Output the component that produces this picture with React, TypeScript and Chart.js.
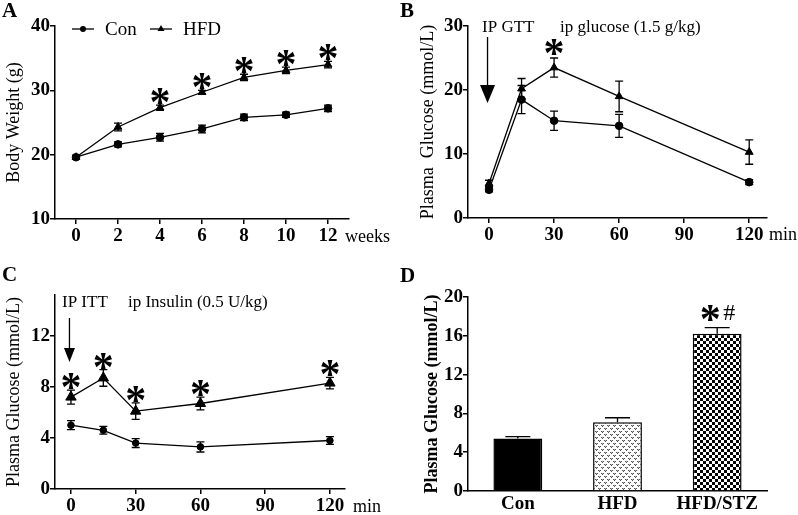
import React, { useEffect, useRef } from "react";
import { Chart, registerables } from "chart.js";

Chart.register(...registerables);

const FONT = "'Liberation Serif', 'Times New Roman', serif";

// ---------- Panel A: body weight ----------
const weeks = [0, 2, 4, 6, 8, 10, 12];
const weekTicks = [0, 2, 4, 6, 8, 10, 12];
const bwCon = [19.6, 21.6, 22.7, 24.0, 25.8, 26.2, 27.2];
const bwConErr = [0.3, 0.4, 0.6, 0.6, 0.5, 0.4, 0.5];
const bwHfd = [19.6, 24.3, 27.3, 29.7, 32.0, 33.1, 34.0];
const bwHfdErr = [0.3, 0.6, 0.4, 0.3, 0.5, 0.5, 0.5];
const bwSig = [false, false, true, true, true, true, true];
const bwYTicks = [10, 20, 30, 40];

// ---------- Panel B: IP GTT ----------
const gttTime = [0, 15, 30, 60, 120];
const gttCon = [4.4, 18.5, 15.2, 14.4, 5.6];
const gttConErr = [0.3, 2.2, 1.5, 1.8, 0.4];
const gttHfd = [5.4, 20.2, 23.5, 19.0, 10.3];
const gttHfdErr = [0.5, 1.6, 1.5, 2.4, 1.9];
const gttSig = [false, false, true, false, false];
const minTicks = [0, 30, 60, 90, 120];
const gttYTicks = [0, 10, 20, 30];

// ---------- Panel C: IP ITT ----------
const ittTime = [0, 15, 30, 60, 120];
const ittCon = [5.0, 4.6, 3.6, 3.3, 3.8];
const ittConErr = [0.35, 0.3, 0.35, 0.4, 0.3];
const ittHfd = [7.2, 8.7, 6.1, 6.7, 8.3];
const ittHfdErr = [0.55, 0.65, 0.65, 0.5, 0.45];
const ittSig = [true, true, true, true, true];
const ittYTicks = [0, 4, 8, 12];

// ---------- Panel D: fasting glucose ----------
const groups = ["Con", "HFD", "HFD/STZ"];
const fastGlucose = [5.4, 7.1, 16.2];
const fastGlucoseErr = [0.2, 0.45, 0.65];
const dYTicks = [0, 4, 8, 12, 16, 20];

// ---------- helpers ----------
const tickFont = { family: FONT, size: 19, weight: "bold" as const };
const STAR = 42;

function linAxis(ticks: number[], min: number, max: number, size: number, horizontal: boolean, title?: string, titlePad?: number, titleBold?: boolean): any {
  return {
    type: "linear",
    min,
    max,
    afterBuildTicks: (s: any) => {
      s.ticks = ticks.map((v) => ({ value: v }));
    },
    afterFit: (s: any) => {
      if (horizontal) s.height = size;
      else s.width = size;
    },
    border: { display: true, color: "#000", width: 1.5 },
    grid: { display: true, drawOnChartArea: false, drawTicks: true, tickLength: 5, color: "#000", lineWidth: 1.5 },
    ticks: { color: "#000", font: tickFont, padding: horizontal ? 1 : 0, maxRotation: 0, autoSkip: false },
    title: title
      ? {
          display: true,
          text: title,
          color: "#000",
          font: { family: FONT, size: 18, weight: titleBold ? "bold" : "normal" },
          padding: { top: titlePad ?? 3, bottom: 0 },
        }
      : { display: false },
  };
}

function lineDs(label: string, xs: number[], ys: number[], style: string, r: number): any {
  return {
    label,
    data: xs.map((x, i) => ({ x, y: ys[i] })),
    borderColor: "#000",
    borderWidth: 1.3,
    pointStyle: style,
    pointRadius: r,
    pointBackgroundColor: "#000",
    pointBorderColor: "#000",
    pointBorderWidth: 1,
    tension: 0,
    fill: false,
    clip: false,
  };
}

function errorBars(errs: number[][], cap: number): any {
  return {
    id: "errorBars",
    beforeDatasetsDraw(chart: any) {
      const ctx = chart.ctx;
      const xs = chart.scales.x;
      const ys = chart.scales.y;
      ctx.save();
      ctx.strokeStyle = "#000";
      ctx.lineWidth = 1.3;
      chart.data.datasets.forEach((ds: any, i: number) => {
        const e = errs[i];
        ds.data.forEach((p: any, j: number) => {
          const x = xs.getPixelForValue(p.x);
          const yt = ys.getPixelForValue(p.y + e[j]);
          const yb = ys.getPixelForValue(p.y - e[j]);
          ctx.beginPath();
          ctx.moveTo(x, yt);
          ctx.lineTo(x, yb);
          ctx.moveTo(x - cap / 2, yt);
          ctx.lineTo(x + cap / 2, yt);
          ctx.moveTo(x - cap / 2, yb);
          ctx.lineTo(x + cap / 2, yb);
          ctx.stroke();
        });
      });
      ctx.restore();
    },
  };
}

function drawStar(ctx: any, x: number, cy: number, size: number) {
  ctx.save();
  ctx.fillStyle = "#000";
  ctx.font = `bold ${size}px ${FONT}`;
  ctx.textAlign = "center";
  ctx.textBaseline = "alphabetic";
  ctx.fillText("*", x, cy + size * 0.5);
  ctx.restore();
}

function stars(dsIndex: number, errs: number[], sig: boolean[], gap: number, size: number): any {
  return {
    id: "stars",
    afterDatasetsDraw(chart: any) {
      const ds = chart.data.datasets[dsIndex];
      const xs = chart.scales.x;
      const ys = chart.scales.y;
      ds.data.forEach((p: any, j: number) => {
        if (!sig[j]) return;
        drawStar(chart.ctx, xs.getPixelForValue(p.x), ys.getPixelForValue(p.y + errs[j]) - gap, size);
      });
    },
  };
}

function unitLabel(text: string, dx: number, dy: number): any {
  return {
    id: "unitLabel",
    afterDraw(chart: any) {
      const ctx = chart.ctx;
      const a = chart.chartArea;
      ctx.save();
      ctx.fillStyle = "#000";
      ctx.font = `18px ${FONT}`;
      ctx.textAlign = "left";
      ctx.textBaseline = "alphabetic";
      ctx.fillText(text, a.right + dx, a.bottom + dy);
      ctx.restore();
    },
  };
}

function arrowNote(label1: string, label2: string, dx1: number, dx2: number, dyText: number, yStart: number, yTip: number, headLen: number, headHalf: number): any {
  return {
    id: "arrowNote",
    afterDraw(chart: any) {
      const ctx = chart.ctx;
      const a = chart.chartArea;
      const x0 = chart.scales.x.getPixelForValue(0);
      ctx.save();
      ctx.fillStyle = "#000";
      ctx.strokeStyle = "#000";
      ctx.font = `17px ${FONT}`;
      ctx.textAlign = "left";
      ctx.textBaseline = "alphabetic";
      ctx.fillText(label1, x0 + dx1, a.top + dyText);
      ctx.fillText(label2, x0 + dx2, a.top + dyText);
      const ax = x0 - 1.5;
      ctx.lineWidth = 1.3;
      ctx.beginPath();
      ctx.moveTo(ax, a.top + yStart);
      ctx.lineTo(ax, a.top + yTip - headLen + 1);
      ctx.stroke();
      ctx.beginPath();
      ctx.moveTo(ax - headHalf, a.top + yTip - headLen);
      ctx.lineTo(ax + headHalf, a.top + yTip - headLen);
      ctx.lineTo(ax, a.top + yTip);
      ctx.closePath();
      ctx.fill();
      ctx.restore();
    },
  };
}

const legendA: any = {
  id: "legendA",
  afterDraw(chart: any) {
    const ctx = chart.ctx;
    const a = chart.chartArea;
    const y = a.top + 3;
    ctx.save();
    ctx.strokeStyle = "#000";
    ctx.fillStyle = "#000";
    ctx.lineWidth = 1.3;
    const items = [
      { label: chart.data.datasets[0].label, x: a.left + 17, shape: "circle" },
      { label: chart.data.datasets[1].label, x: a.left + 95, shape: "triangle" },
    ];
    items.forEach((it) => {
      ctx.beginPath();
      ctx.moveTo(it.x, y);
      ctx.lineTo(it.x + 22, y);
      ctx.stroke();
      const cx = it.x + 11;
      ctx.beginPath();
      if (it.shape === "circle") {
        ctx.arc(cx, y, 3, 0, Math.PI * 2);
      } else {
        ctx.moveTo(cx, y - 4);
        ctx.lineTo(cx + 3.5, y + 2);
        ctx.lineTo(cx - 3.5, y + 2);
        ctx.closePath();
      }
      ctx.fill();
      ctx.font = `19px ${FONT}`;
      ctx.textBaseline = "alphabetic";
      ctx.fillText(it.label, it.x + 33, y + 6);
    });
    ctx.restore();
  },
};

const baseOptions = (padding: any) => ({
  responsive: false,
  animation: false,
  events: [],
  layout: { padding },
  plugins: { legend: { display: false }, tooltip: { enabled: false } },
});

function buildA(): any {
  return {
    type: "line",
    data: {
      datasets: [
        lineDs("Con", weeks, bwCon, "circle", 3.8),
        lineDs("HFD", weeks, bwHfd, "triangle", 4.5),
      ],
    },
    options: {
      ...baseOptions({ left: 0, right: 50, top: 26, bottom: 11 }),
      scales: {
        x: linAxis(weekTicks, -1, 13, 30, true),
        y: linAxis(bwYTicks, 10, 40, 55, false, "Body Weight (g)", 3),
      },
    },
    plugins: [errorBars([bwConErr, bwHfdErr], 8), stars(1, bwHfdErr, bwSig, 10, STAR), unitLabel("weeks", -4, 23), legendA],
  };
}

function buildB(): any {
  return {
    type: "line",
    data: {
      datasets: [
        lineDs("Con", gttTime, gttCon, "circle", 3.8),
        lineDs("HFD", gttTime, gttHfd, "triangle", 4.5),
      ],
    },
    options: {
      ...baseOptions({ left: 0, right: 31, top: 26, bottom: 12 }),
      scales: {
        x: linAxis(minTicks, -9.7, 128.2, 30, true),
        y: linAxis(gttYTicks, 0, 30, 68, false, "Plasma  Glucose (mmol/L)", 17),
      },
    },
    plugins: [
      errorBars([gttConErr, gttHfdErr], 8),
      stars(1, gttHfdErr, gttSig, 12, STAR),
      unitLabel("min", 2, 22),
      arrowNote("IP GTT", "ip glucose (1.5 g/kg)", -7, 71, 6, 11, 77, 18, 7.5),
    ],
  };
}

function buildC(): any {
  return {
    type: "line",
    data: {
      datasets: [
        lineDs("Con", ittTime, ittCon, "circle", 3.3),
        lineDs("HFD", ittTime, ittHfd, "triangle", 6),
      ],
    },
    options: {
      ...baseOptions({ left: 0, right: 54, top: 35, bottom: 0 }),
      scales: {
        x: linAxis(minTicks, -7.4, 127, 26, true),
        y: linAxis(ittYTicks, 0, 15.2, 55, false, "Plasma Glucose (mmol/L)", 3),
      },
    },
    plugins: [
      errorBars([ittConErr, ittHfdErr], 8),
      stars(1, ittHfdErr, ittSig, 10, STAR),
      unitLabel("min", 8, 23),
      arrowNote("IP ITT", "ip Insulin (0.5 U/kg)", -9, 57, 12, 23, 67, 14, 5.5),
    ],
  };
}

function makePatterns(ctx: CanvasRenderingContext2D) {
  // fine dotted texture
  const t1 = document.createElement("canvas");
  t1.width = 6;
  t1.height = 6;
  const c1 = t1.getContext("2d")!;
  c1.fillStyle = "#fff";
  c1.fillRect(0, 0, 6, 6);
  c1.fillStyle = "#555";
  [[0, 0], [2, 0], [1, 1], [3, 3], [5, 3], [4, 4]].forEach(([x, y]) => c1.fillRect(x, y, 1, 1));
  c1.fillStyle = "#aaa";
  [[1, 0], [4, 3]].forEach(([x, y]) => c1.fillRect(x, y, 1, 1));
  // checkerboard
  const t2 = document.createElement("canvas");
  t2.width = 6;
  t2.height = 6;
  const c2 = t2.getContext("2d")!;
  c2.fillStyle = "#fff";
  c2.fillRect(0, 0, 6, 6);
  c2.fillStyle = "#000";
  c2.fillRect(0, 0, 3, 3);
  c2.fillRect(3, 3, 3, 3);
  return [ctx.createPattern(t1, "repeat"), ctx.createPattern(t2, "repeat")];
}

function buildD(ctx: CanvasRenderingContext2D): any {
  const [dots, checks] = makePatterns(ctx);
  const barErr: any = {
    id: "barErr",
    afterDatasetsDraw(chart: any) {
      const c = chart.ctx;
      const meta = chart.getDatasetMeta(0);
      const ys = chart.scales.y;
      c.save();
      c.strokeStyle = "#000";
      c.lineWidth = 1.3;
      meta.data.forEach((bar: any, j: number) => {
        const v = fastGlucose[j];
        const yt = ys.getPixelForValue(v + fastGlucoseErr[j]);
        c.beginPath();
        c.moveTo(bar.x, ys.getPixelForValue(v));
        c.lineTo(bar.x, yt);
        c.moveTo(bar.x - 12.5, yt);
        c.lineTo(bar.x + 12.5, yt);
        c.stroke();
      });
      // significance marks over HFD/STZ
      const last = meta.data[2];
      const cy = ys.getPixelForValue(fastGlucose[2] + fastGlucoseErr[2]) - 16;
      drawStar(c, last.x - 7, cy, STAR);
      c.fillStyle = "#000";
      c.font = `24px ${FONT}`;
      c.textAlign = "center";
      c.textBaseline = "alphabetic";
      c.fillText("#", last.x + 12, cy + 8);
      c.restore();
    },
  };
  return {
    type: "bar",
    data: {
      labels: groups,
      datasets: [
        {
          label: "Plasma Glucose",
          data: fastGlucose,
          backgroundColor: ["#000", dots, checks],
          borderColor: "#000",
          borderWidth: 1.5,
          borderSkipped: "bottom",
          barPercentage: 0.49,
          categoryPercentage: 1,
        },
      ],
    },
    options: {
      ...baseOptions({ left: 0, right: 31, top: 37, bottom: 0 }),
      scales: {
        x: {
          type: "category",
          offset: true,
          afterFit: (s: any) => {
            s.height = 24;
          },
          border: { display: true, color: "#000", width: 1.5 },
          grid: { display: false, drawTicks: false },
          ticks: { color: "#000", font: tickFont, padding: 2, maxRotation: 0, autoSkip: false },
        },
        y: linAxis(dYTicks, 0, 20, 68, false, "Plasma Glucose (mmol/L)", 22, true),
      },
    },
    plugins: [barErr],
  };
}

function Panel({ left, top, width, height, build }: any) {
  const ref = useRef<HTMLCanvasElement>(null);
  useEffect(() => {
    const canvas = ref.current!;
    const ctx = canvas.getContext("2d")!;
    const chart = new Chart(canvas, build(ctx));
    return () => chart.destroy();
  }, []);
  return (
    <canvas
      ref={ref}
      width={width}
      height={height}
      style={{ position: "absolute", left, top, width, height, display: "block" }}
    />
  );
}

const letterStyle = (left: number, top: number): React.CSSProperties => ({
  position: "absolute",
  left,
  top,
  fontFamily: FONT,
  fontWeight: "bold",
  fontSize: 21,
  lineHeight: "21px",
  color: "#000",
});

export default function App() {
  return (
    <div
      style={{
        position: "absolute",
        left: 0,
        top: 0,
        width: 798,
        height: 515,
        background: "#fff",
        overflow: "hidden",
      }}
    >
      <Panel left={0} top={0} width={399} height={260} build={() => buildA()} />
      <Panel left={400} top={0} width={398} height={260} build={() => buildB()} />
      <Panel left={0} top={260} width={399} height={255} build={() => buildC()} />
      <Panel left={400} top={260} width={398} height={255} build={(ctx: any) => buildD(ctx)} />
      <div style={letterStyle(2, 0)}>A</div>
      <div style={letterStyle(400, 0)}>B</div>
      <div style={letterStyle(2, 264)}>C</div>
      <div style={letterStyle(400, 265)}>D</div>
    </div>
  );
}
